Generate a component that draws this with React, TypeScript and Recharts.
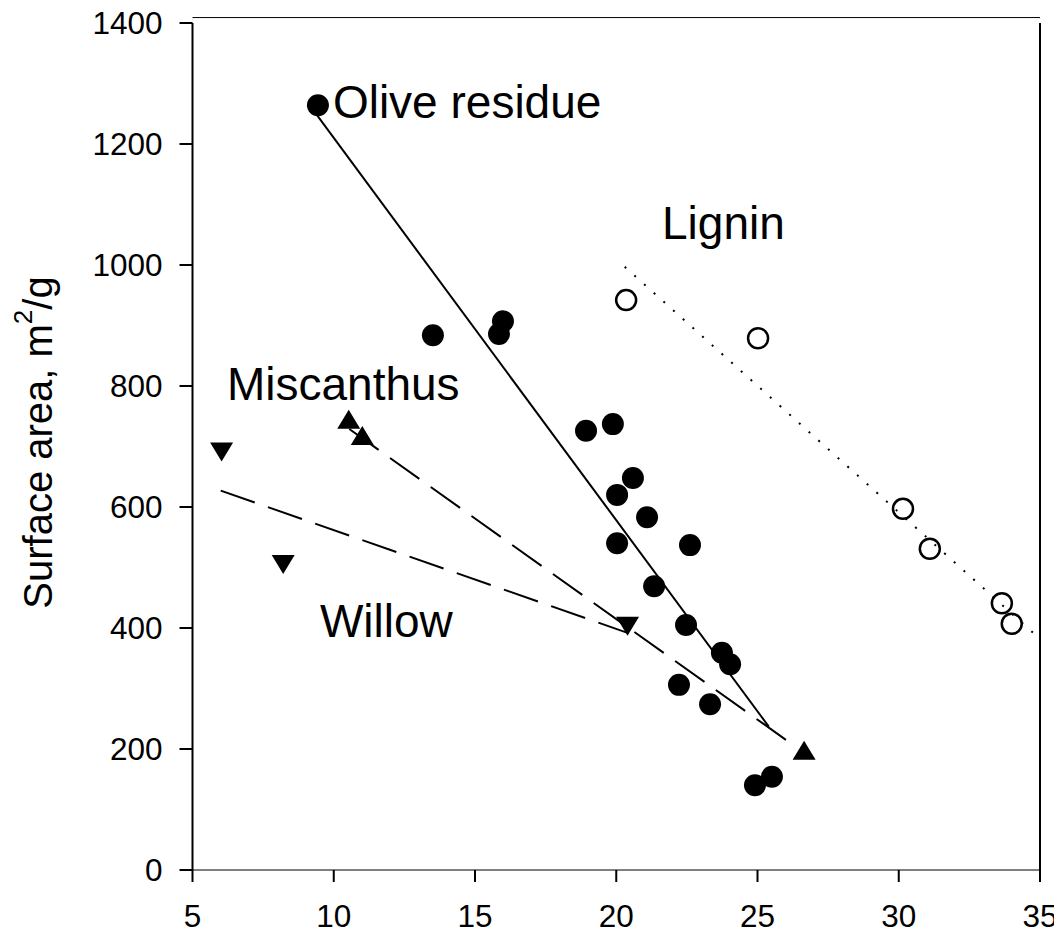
import React from 'react';
import { ScatterChart, Scatter, XAxis, YAxis, ReferenceLine, Label } from 'recharts';

const FONT = '"Liberation Sans", Arial, sans-serif';

const xTicks = [5, 10, 15, 20, 25, 30, 35];
const yTicks = [0, 200, 400, 600, 800, 1000, 1200, 1400];

// measured points
const olive = [
  { x: 9.44, y: 1264 },
  { x: 13.51, y: 884 },
  { x: 15.85, y: 886 },
  { x: 15.99, y: 907 },
  { x: 18.93, y: 726 },
  { x: 19.88, y: 737 },
  { x: 20.03, y: 620 },
  { x: 20.03, y: 540 },
  { x: 20.59, y: 648 },
  { x: 21.09, y: 583 },
  { x: 21.34, y: 469 },
  { x: 22.61, y: 537 },
  { x: 22.47, y: 405 },
  { x: 23.74, y: 359 },
  { x: 24.03, y: 340 },
  { x: 22.22, y: 306 },
  { x: 23.32, y: 274 },
  { x: 24.91, y: 140 },
  { x: 25.51, y: 154 },
];
const miscanthus = [
  { x: 10.53, y: 745 },
  { x: 11.01, y: 718 },
  { x: 26.65, y: 198 },
];
const willow = [
  { x: 6.03, y: 691 },
  { x: 8.21, y: 505 },
  { x: 20.4, y: 403 },
];
const lignin = [
  { x: 20.35, y: 942 },
  { x: 25.02, y: 879 },
  { x: 30.15, y: 597 },
  { x: 31.1, y: 531 },
  { x: 33.65, y: 441 },
  { x: 34.0, y: 407 },
];

// fitted lines (end points)
const oliveFit = [{ x: 9.4, y: 1248 }, { x: 25.4, y: 237 }];
const miscanthusFit = [{ x: 10.55, y: 729 }, { x: 26.1, y: 212 }];
const willowFit = [{ x: 6.0, y: 627 }, { x: 20.4, y: 392 }];
const ligninFit = [{ x: 20.3, y: 997 }, { x: 35, y: 382 }];

// series labels, anchored at text start / baseline
const notes = [
  { x: 9.97, y: 1243, text: 'Olive residue' },
  { x: 21.62, y: 1043, text: 'Lignin' },
  { x: 6.22, y: 777, text: 'Miscanthus' },
  { x: 9.51, y: 385, text: 'Willow' },
];

const Dot = (p: any) => <circle cx={p.cx} cy={p.cy} r={11} fill="#000" />;
const Ring = (p: any) => (
  <circle cx={p.cx} cy={p.cy} r={10} fill="none" stroke="#000" strokeWidth={2.5} />
);
const TriUp = (p: any) => (
  <polygon
    points={`${p.cx},${p.cy - 9.5} ${p.cx + 11.5},${p.cy + 9.5} ${p.cx - 11.5},${p.cy + 9.5}`}
    fill="#000"
  />
);
const TriDown = (p: any) => (
  <polygon
    points={`${p.cx},${p.cy + 9.5} ${p.cx + 11.5},${p.cy - 9.5} ${p.cx - 11.5},${p.cy - 9.5}`}
    fill="#000"
  />
);
const Note = (p: any) => (
  <text x={p.cx} y={p.cy} fontSize={46} fontFamily={FONT} fill="#000">
    {p.payload?.text}
  </text>
);
const Nothing = () => <g />;

const YLabel = (props: any) => {
  const vb = props.viewBox || { x: 0, y: 15, height: 847 };
  const x = vb.x + 44;
  const y = vb.y + vb.height / 2 - 4;
  return (
    <text
      x={x}
      y={y}
      transform={`rotate(-90, ${x}, ${y})`}
      textAnchor="middle"
      fontSize={40}
      fontFamily={FONT}
      fill="#000"
    >
      Surface area, m
      <tspan fontSize={26} dy={-20}>2</tspan>
      <tspan dy={20}>/g</tspan>
    </text>
  );
};

export default function App() {
  const tick = { fontSize: 31.5, fill: '#000', fontFamily: FONT };
  return (
    <ScatterChart width={1054} height={929} margin={{ top: 15, right: 22, bottom: 7, left: 0 }}>
      <XAxis
        type="number"
        dataKey="x"
        domain={[5, 35]}
        ticks={xTicks}
        interval={0}
        allowDataOverflow
        height={60}
        tickSize={12}
        tickMargin={23}
        axisLine={{ stroke: '#000', strokeWidth: 1 }}
        tickLine={{ stroke: '#000', strokeWidth: 2 }}
        tick={tick}
      />
      <YAxis
        type="number"
        dataKey="y"
        domain={[0, 1400]}
        ticks={yTicks}
        interval={0}
        allowDataOverflow
        width={184.5}
        tickSize={13}
        tickMargin={17}
        axisLine={{ stroke: '#000', strokeWidth: 2 }}
        tickLine={{ stroke: '#000', strokeWidth: 2 }}
        tick={tick}
      >
        <Label content={YLabel} />
      </YAxis>
      <ReferenceLine x={35} stroke="#000" strokeWidth={2} />
      <ReferenceLine
        segment={[{ x: 5, y: 1409 }, { x: 35, y: 1409 }]}
        stroke="#000"
        strokeWidth={1}
        ifOverflow="visible"
      />

      <Scatter data={oliveFit} shape={Nothing} line={{ stroke: '#000', strokeWidth: 2 }} isAnimationActive={false} />
      <Scatter
        data={miscanthusFit}
        shape={Nothing}
        line={{ stroke: '#000', strokeWidth: 2, strokeDasharray: '36 14' }}
        isAnimationActive={false}
      />
      <Scatter
        data={willowFit}
        shape={Nothing}
        line={{ stroke: '#000', strokeWidth: 2, strokeDasharray: '36 14' }}
        isAnimationActive={false}
      />
      <Scatter
        data={ligninFit}
        shape={Nothing}
        line={{ stroke: '#000', strokeWidth: 2, strokeDasharray: '2 11' }}
        isAnimationActive={false}
      />

      <Scatter data={olive} shape={Dot} isAnimationActive={false} />
      <Scatter data={miscanthus} shape={TriUp} isAnimationActive={false} />
      <Scatter data={willow} shape={TriDown} isAnimationActive={false} />
      <Scatter data={lignin} shape={Ring} isAnimationActive={false} />
      <Scatter data={notes} shape={Note} isAnimationActive={false} />
    </ScatterChart>
  );
}
